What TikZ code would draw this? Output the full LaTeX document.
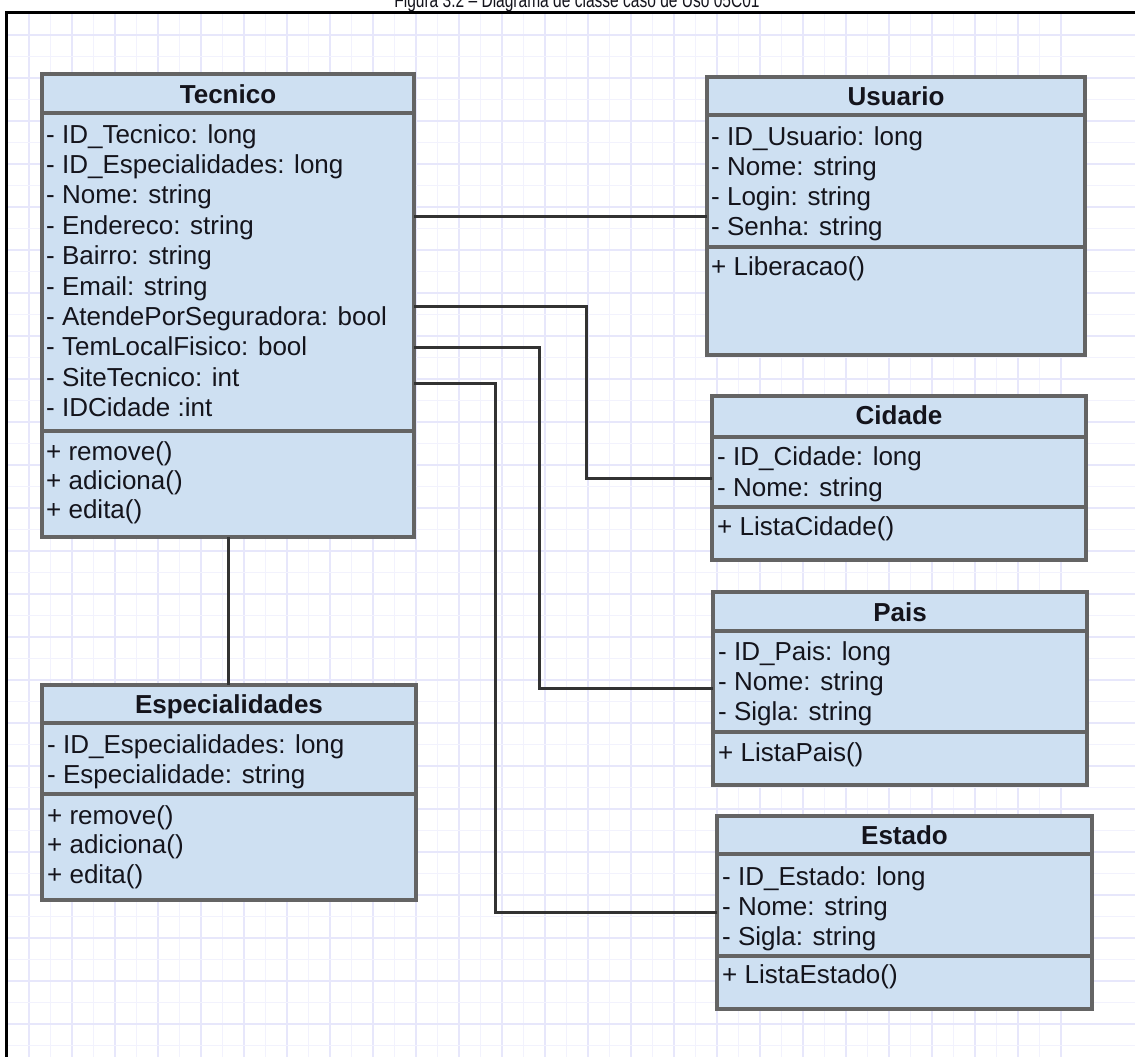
\documentclass[tikz,border=0pt]{standalone}
\usepackage{fontspec}
\setmainfont{Liberation Sans}
\definecolor{boxfill}{RGB}{206,224,242}
\definecolor{boxline}{RGB}{100,100,100}
\definecolor{wire}{RGB}{50,50,50}
\definecolor{ink}{RGB}{20,20,28}
\definecolor{gridminor}{RGB}{242,242,253}
\definecolor{gridmajor}{RGB}{231,231,251}

% class box: name, left, top, right, bottom, header separator y, attribute separator y
\newcommand{\umlclass}[7]{%
  \node[classbox, minimum width={#4-#2}, minimum height={#5-#3}] (#1) at ({(#2+#4)/2},{(#3+#5)/2}) {};
  \draw[sep] (#1.west |- 0,#6) -- (#1.east |- 0,#6);
  \draw[sep] (#1.west |- 0,#7) -- (#1.east |- 0,#7);
}
% one member line: node name, x, baseline y, text
\newcommand{\umlline}[4]{\node[member] (#1) at (#2,#3) {#4};}

\begin{document}
\begin{tikzpicture}[x=1pt,y=-1pt,
  classbox/.style={rectangle, draw=boxline, fill=boxfill, line width=3.8pt, inner sep=0pt, outer sep=0pt},
  sep/.style={draw=boxline, line width=3.8pt},
  assoc/.style={draw=wire, line width=3pt},
  member/.style={anchor=base west, inner sep=0pt, text=ink, font=\fontsize{26}{30}\selectfont},
  header/.style={anchor=base, inner sep=0pt, text=ink, font=\fontsize{26}{30}\selectfont\bfseries},
  caption/.style={anchor=base, inner sep=0pt, text=ink, font=\fontsize{21}{24}\selectfont},
]
\useasboundingbox (0,0) rectangle (1135,1057);
\fill[white] (0,0) rectangle (1135,1057);

% background grid
\foreach \k in {0,...,49} {
  \pgfmathsetmacro{\gx}{7.5+21.5*\k}
  \pgfmathtruncatemacro{\odd}{mod(\k,2)}
  \ifnum\odd=1 \draw[gridmajor, line width=1.4pt] (\gx,13) -- (\gx,1057);
  \else \draw[gridminor, line width=1.2pt] (\gx,13) -- (\gx,1057); \fi
}
\foreach \k in {0,...,48} {
  \pgfmathsetmacro{\gy}{35+21.5*\k}
  \pgfmathtruncatemacro{\odd}{mod(\k,2)}
  \ifnum\odd=0 \draw[gridmajor, line width=1.4pt] (6,\gy) -- (1135,\gy);
  \else \draw[gridminor, line width=1.2pt] (6,\gy) -- (1135,\gy); \fi
}

% frame and caption (the caption runs past the top edge of the page)
\draw[black, line width=3pt] (6,1057) -- (6,13) -- (1135,13);
\node[caption, xscale=0.74] (caption) at (577,8) {Figura 3.2 – Diagrama de classe  caso de Uso 05C01};

% ---- Tecnico
\umlclass{tecnico}{42}{74}{414}{537}{113}{431}
\node[header] (tecnico-name) at (228,103) {Tecnico};
\umlline{tec1}{46}{143}{- ID\_Tecnico: long}
\umlline{tec2}{46}{173.4}{- ID\_Especialidades: long}
\umlline{tec3}{46}{203.8}{- Nome: string}
\umlline{tec4}{46}{234.2}{- Endereco: string}
\umlline{tec5}{46}{264.6}{- Bairro: string}
\umlline{tec6}{46}{295}{- Email: string}
\umlline{tec7}{46}{325.4}{- AtendePorSeguradora: bool}
\umlline{tec8}{46}{355.8}{- TemLocalFisico: bool}
\umlline{tec9}{46}{386.2}{- SiteTecnico: int}
\umlline{tec10}{46}{416.6}{- IDCidade :int}
\umlline{tec11}{46}{460}{+ remove()}
\umlline{tec12}{46}{489}{+ adiciona()}
\umlline{tec13}{46}{518}{+ edita()}

% ---- Usuario
\umlclass{usuario}{707}{77}{1085}{355}{115}{247}
\node[header] (usuario-name) at (896,105) {Usuario};
\umlline{usu1}{711}{145}{- ID\_Usuario: long}
\umlline{usu2}{711}{175}{- Nome: string}
\umlline{usu3}{711}{205}{- Login: string}
\umlline{usu4}{711}{235}{- Senha: string}
\umlline{usu5}{711}{275}{+ Liberacao()}

% ---- Cidade
\umlclass{cidade}{712}{396}{1086}{560}{437}{507}
\node[header] (cidade-name) at (899,424) {Cidade};
\umlline{cid1}{717}{465}{- ID\_Cidade: long}
\umlline{cid2}{717}{496}{- Nome: string}
\umlline{cid3}{717}{535}{+ ListaCidade()}

% ---- Pais
\umlclass{pais}{713}{592}{1087}{785}{631}{732}
\node[header] (pais-name) at (900,621) {Pais};
\umlline{pai1}{718}{660}{- ID\_Pais: long}
\umlline{pai2}{718}{690}{- Nome: string}
\umlline{pai3}{718}{720}{- Sigla: string}
\umlline{pai4}{718}{761}{+ ListaPais()}

% ---- Estado
\umlclass{estado}{717}{816}{1092}{1009}{854}{956}
\node[header] (estado-name) at (904.5,844) {Estado};
\umlline{est1}{722}{885}{- ID\_Estado: long}
\umlline{est2}{722}{915}{- Nome: string}
\umlline{est3}{722}{945}{- Sigla: string}
\umlline{est4}{722}{983}{+ ListaEstado()}

% ---- Especialidades
\umlclass{especialidades}{42}{685}{416}{900}{723}{794}
\node[header] (esp-name) at (229,713) {Especialidades};
\umlline{esp1}{47}{753}{- ID\_Especialidades: long}
\umlline{esp2}{47}{783}{- Especialidade: string}
\umlline{esp3}{47}{824}{+ remove()}
\umlline{esp4}{47}{853}{+ adiciona()}
\umlline{esp5}{47}{883}{+ edita()}

% ---- associations
\coordinate (tec-usu) at (414,216);
\coordinate (tec-cid) at (414,306);
\coordinate (tec-pai) at (414,347);
\coordinate (tec-est) at (414,383);
\coordinate (tec-esp) at (228,537);

\draw[assoc] (tec-usu) -- (usuario.west |- tec-usu);
\draw[assoc] (tec-cid) -- (586,306) |- (cidade.west |- 0,478);
\draw[assoc] (tec-pai) -- (539,347) |- (pais.west |- 0,688);
\draw[assoc] (tec-est) -- (495,383) |- (estado.west |- 0,912);
\draw[assoc] (tec-esp) -- (especialidades.north -| tec-esp);
\end{tikzpicture}
\end{document}
